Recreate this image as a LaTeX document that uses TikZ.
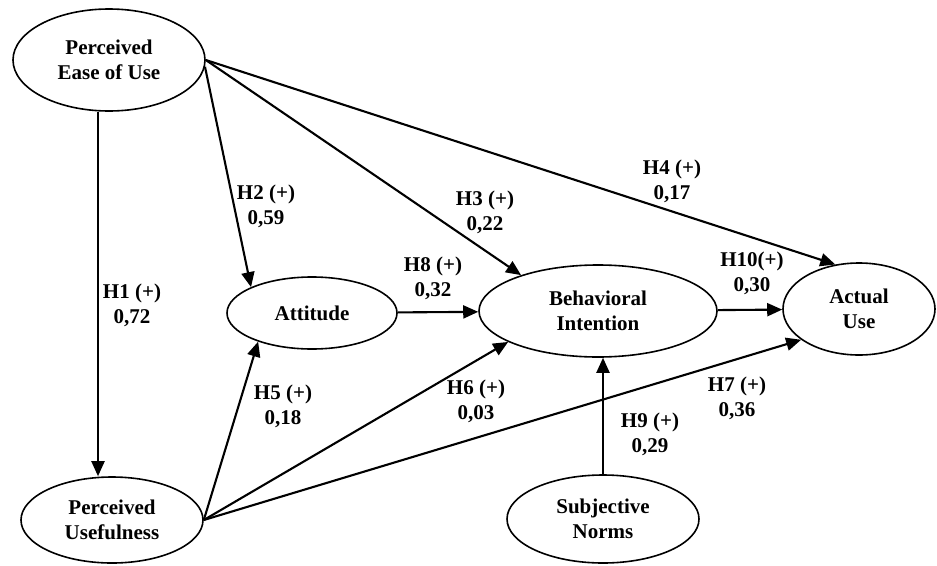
\documentclass[tikz,border=0pt]{standalone}
\usepackage{fontspec}
\setmainfont{Liberation Serif}
\usetikzlibrary{arrows.meta,shapes.geometric}
\begin{document}
\begin{tikzpicture}[x=1pt,y=-1pt,
  construct/.style={draw, ellipse, line width=1.6pt, inner sep=0pt, align=center,
    font=\fontsize{21}{25}\selectfont\bfseries},
  arr/.style={line width=2.1pt, -{Triangle[length=15pt,width=13pt]}},
  lbl/.style={align=center, inner sep=0pt, font=\fontsize{21}{25}\selectfont\bfseries}]
\useasboundingbox (0,0) rectangle (937,565);

\node[construct, minimum width=192pt, minimum height=102pt] (peou) at (109,60) {Perceived\\Ease of Use};
\node[construct, minimum width=182pt, minimum height=86pt] (pu) at (112,520) {Perceived\\Usefulness};
\node[construct, minimum width=170pt, minimum height=72pt] (att) at (312,313) {Attitude};
\node[construct, minimum width=238pt, minimum height=92pt] (bi) at (598,311) {Behavioral\\Intention};
\node[construct, minimum width=152pt, minimum height=92pt] (au) at (859,309) {Actual\\Use};
\node[construct, minimum width=192pt, minimum height=88pt] (sn) at (603,519) {Subjective\\Norms};

% connectors
\draw[arr] ([xshift=-11pt]peou.south) -- ([xshift=-14pt]pu.north);
\draw[arr] (peou.-4) -- (att.157);
\draw[arr] (peou.east) -- (bi.155);
\draw[arr] (peou.east) -- (au.118);
\draw[arr] (att) -- (bi);
\draw[arr] (bi) -- (au);
\draw[arr] (sn.north) -- (sn.north |- bi.south);
\draw[arr] (pu.east) -- (att.208);
\draw[arr] (pu.east) -- (bi.199);
\draw[arr] (pu.east) -- (au.208);

% labels
\node[lbl] (l1) at (132,305) {H1 (+)\\0,72};
\node[lbl] (l2) at (266,206) {H2 (+)\\0,59};
\node[lbl] (l3) at (485,212) {H3 (+)\\0,22};
\node[lbl] (l4) at (672,181) {H4 (+)\\0,17};
\node[lbl] (l8) at (433,278) {H8 (+)\\0,32};
\node[lbl] (l10) at (752,273) {H10(+)\\0,30};
\node[lbl] (l5) at (283,406) {H5 (+)\\0,18};
\node[lbl] (l6) at (476,401) {H6 (+)\\0,03};
\node[lbl] (l7) at (737,398) {H7 (+)\\0,36};
\node[lbl] (l9) at (650,434) {H9 (+)\\0,29};
\end{tikzpicture}
\end{document}
